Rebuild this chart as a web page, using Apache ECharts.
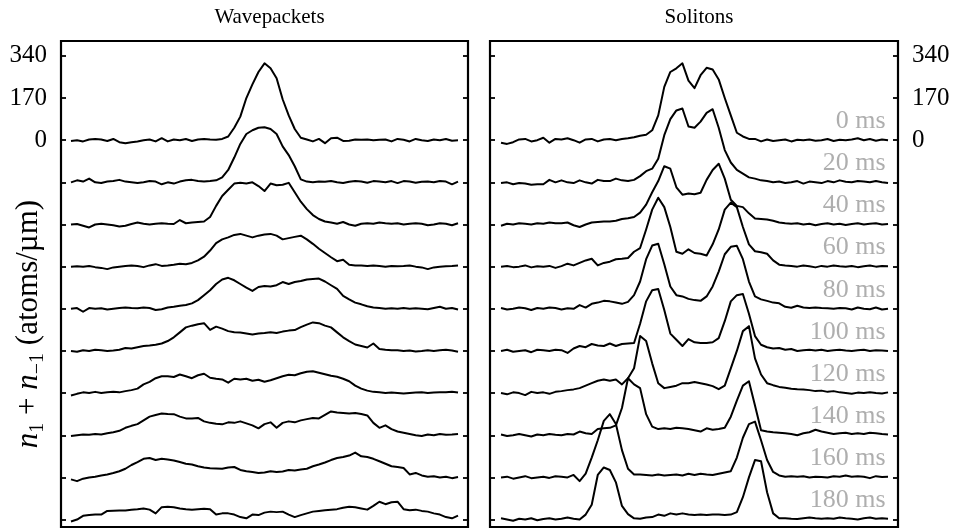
<!DOCTYPE html>
<html>
<head>
<meta charset="utf-8">
<script src="https://cdn.jsdelivr.net/npm/echarts@6/dist/echarts.min.js"></script>
<style>html,body{margin:0;padding:0;background:#fff;}#c{width:960px;height:531px;}</style>
</head>
<body>
<div id="c"></div>
<script>
// Panel titles and trace labels
const panelTitles = ['Wavepackets', 'Solitons'];
const timeLabels = ['0 ms','20 ms','40 ms','60 ms','80 ms','100 ms','120 ms','140 ms','160 ms','180 ms'];
const traceOffset = 170;                 // vertical offset between successive traces (atoms/µm)
const yTickLabels = [0, 170, 340];
const yTicks = [340,170,0,-170,-340,-510,-680,-850,-1020,-1190,-1360,-1530];

// Wavepackets: density profiles (atoms/µm), 65 samples each
const wave0 = [-3,0,-5,3,5,3,-3,5,-8,-12,-8,-5,0,3,-5,8,-5,3,0,5,-3,3,5,3,2,5,15,50,95,170,225,275,310,290,250,165,100,45,10,3,-5,5,-12,8,10,-3,-2,3,2,3,0,2,3,-5,5,2,-5,5,0,-3,3,0,5,-2,0];
const wave1 = [0,8,3,15,0,-3,3,5,10,3,0,-3,0,5,3,-8,0,-5,3,8,10,5,3,5,8,20,50,100,155,195,210,220,222,215,195,145,110,65,12,3,0,3,2,5,0,-3,2,5,3,-2,5,3,0,5,-3,5,3,-2,2,3,0,5,3,-8,3];
const wave2 = [0,2,-5,-12,0,3,0,-3,-8,-5,2,8,3,0,3,5,3,2,18,5,8,10,12,30,75,115,140,165,168,165,170,155,135,165,158,160,168,130,92,62,38,22,12,8,3,10,0,-5,3,5,3,8,5,3,5,0,3,5,3,-3,0,5,3,-3,5];
const wave3 = [0,2,0,3,-2,-5,-10,-3,0,3,5,3,-2,5,10,3,5,8,12,10,15,25,40,65,95,110,118,128,132,125,118,125,130,132,125,110,115,120,125,110,92,72,55,38,22,28,8,5,5,3,5,3,0,3,2,3,5,0,-3,-10,-3,0,2,3,5];
const wave4 = [0,3,-12,3,0,2,-3,0,3,5,3,2,5,3,-5,-2,5,8,12,15,22,35,55,75,100,118,125,115,100,85,72,88,92,90,95,108,100,108,112,118,120,122,110,95,80,52,38,25,18,10,5,3,0,2,0,3,0,2,0,-2,3,8,0,3,-3];
const wave5 = [0,-3,3,0,5,3,0,2,5,12,10,15,20,22,25,30,40,55,75,95,102,108,112,85,98,90,80,75,74,70,66,70,72,75,72,78,82,84,96,106,115,112,102,95,75,55,40,26,20,14,30,8,5,3,3,0,2,-2,0,3,0,3,5,2,-3];
const wave6 = [-10,-3,3,0,5,0,3,5,3,8,12,18,35,45,60,68,68,65,75,68,60,72,78,62,58,55,42,58,55,58,50,54,46,52,60,68,74,72,80,86,88,82,76,70,66,58,48,30,18,10,5,3,0,2,0,-2,0,2,3,0,2,3,3,5,2];
const wave7 = [-3,0,3,2,5,3,8,12,18,30,38,45,60,75,82,88,86,85,75,68,68,70,56,50,46,44,52,50,56,48,40,28,45,52,30,50,56,52,60,65,70,68,82,96,92,90,88,90,86,80,50,30,40,25,15,10,5,0,-3,3,0,5,2,3,5];
const wave8 = [-8,-15,-5,0,3,8,12,18,25,35,50,62,75,78,70,75,72,68,62,55,52,45,40,37,36,35,40,42,30,25,22,18,20,25,22,24,30,28,32,35,45,52,60,70,78,82,88,100,85,82,75,65,55,45,42,38,12,18,8,3,5,0,3,-3,2];
const wave9 = [-8,0,15,18,20,20,35,36,37,37,40,42,45,40,25,50,52,50,45,42,40,42,44,42,20,25,25,20,10,5,20,18,28,32,30,32,20,10,18,25,32,35,38,40,42,48,52,50,45,40,55,72,62,70,72,42,38,40,35,32,25,20,10,5,16];

// Solitons: density profiles (atoms/µm), 65 samples each
const sol0 = [-10,-15,-8,3,5,-5,0,10,-10,5,3,8,0,-10,3,5,-5,3,5,0,5,8,12,18,22,40,100,215,275,290,310,240,210,262,292,285,245,170,100,30,15,5,5,-5,3,-3,0,3,-5,2,0,3,-2,0,5,-3,2,0,3,8,0,5,-2,3,0];
const sol1 = [-3,0,-8,-3,-5,-10,-8,-8,10,0,8,0,-3,8,0,-5,10,5,5,15,8,5,10,25,45,55,95,190,255,290,298,225,220,245,280,295,220,130,80,50,35,20,15,8,5,0,3,-3,0,5,-5,3,0,-3,5,0,8,2,0,5,3,0,5,0,-3];
const sol2 = [-5,3,0,5,3,0,5,3,8,5,5,8,-3,-10,0,8,10,12,12,15,22,25,30,48,80,130,175,235,225,150,120,125,122,128,180,220,245,185,100,75,70,45,24,22,20,15,8,5,3,5,0,3,-3,2,5,0,3,-2,2,5,0,3,5,0,2];
const sol3 = [0,3,-2,0,5,-3,2,0,3,-5,2,12,5,15,25,32,5,15,20,30,32,35,60,75,150,230,278,240,160,60,52,70,55,52,45,90,150,230,258,240,160,90,62,58,52,25,8,5,3,0,5,2,-3,3,0,5,2,0,3,-2,2,5,0,3,2];
const sol4 = [3,-3,0,5,2,-5,3,0,5,3,-3,2,0,15,5,20,25,32,30,25,20,28,55,110,200,255,262,180,90,55,50,40,35,32,50,90,150,220,250,254,200,110,50,38,32,25,22,8,4,12,5,3,5,3,2,0,3,2,-3,5,0,-2,5,-3,0];
const sol5 = [0,5,-3,0,3,-5,5,3,0,5,3,-8,10,20,15,28,22,20,30,20,28,30,32,110,200,245,250,165,70,45,20,48,35,32,32,35,52,120,200,225,230,150,60,25,15,10,12,5,8,0,3,5,2,5,0,3,5,2,0,3,5,0,3,2,0];
const sol6 = [0,-5,3,0,-8,5,0,3,-3,5,8,12,15,20,30,40,50,55,50,55,35,60,100,230,210,120,40,20,25,30,40,40,45,40,35,28,16,30,100,170,250,270,140,75,40,32,25,22,18,16,15,12,8,10,5,8,3,0,-3,2,0,3,0,-2,3];
const sol7 = [3,-3,0,5,0,-5,3,0,5,2,0,5,3,15,8,5,25,28,30,40,110,230,205,190,85,35,25,28,25,30,28,25,20,15,28,22,25,30,75,140,200,218,120,20,15,12,10,8,5,0,8,12,22,15,10,5,8,10,5,8,5,10,8,5,3];
const sol8 = [0,3,-5,0,5,-3,0,3,-2,5,3,0,10,-15,15,80,150,228,255,215,110,35,12,12,10,8,12,8,10,12,8,15,10,15,12,10,15,20,25,80,160,215,225,150,70,22,8,3,5,3,5,0,3,2,0,5,3,8,3,5,3,-3,5,2,3];
const sol9 = [5,0,-5,3,0,5,-3,2,5,0,3,8,3,0,20,60,180,210,200,150,55,22,5,3,8,10,20,15,25,20,25,20,18,20,18,20,20,18,20,30,90,170,240,235,110,25,5,5,3,2,5,8,5,3,5,3,8,5,3,0,5,8,3,5,3];

const waveTraces = [wave0,wave1,wave2,wave3,wave4,wave5,wave6,wave7,wave8,wave9];
const solTraces = [sol0,sol1,sol2,sol3,sol4,sol5,sol6,sol7,sol8,sol9];

const FONT = '"Liberation Serif", "DejaVu Serif", serif';
const chart = echarts.init(document.getElementById('c'), null, {renderer: 'canvas'});

function yAx(grid, pos, labels) {
  return {
    type: 'value', gridIndex: grid, position: pos, min: -1560, max: 400,
    axisLine: {show: false, onZero: false},
    splitLine: {show: false},
    axisTick: {show: true, inside: true, length: 5, customValues: yTicks,
      lineStyle: {color: '#000', width: 1.8}},
    axisLabel: {show: labels, customValues: yTickLabels, fontFamily: FONT,
      fontSize: 25, color: '#000', margin: 14}
  };
}

const series = [];
function addTraces(traces, gi) {
  traces.forEach((arr, k) => {
    series.push({
      type: 'line', xAxisIndex: gi, yAxisIndex: gi * 2, showSymbol: false, symbol: 'none',
      silent: true, animation: false,
      lineStyle: {color: '#000', width: 2, join: 'round'},
      data: arr.map((v, i) => [i, v - traceOffset * k])
    });
  });
}
addTraces(waveTraces, 0);
addTraces(solTraces, 1);

series.push({
  type: 'scatter', xAxisIndex: 1, yAxisIndex: 2, symbolSize: 0, silent: true,
  data: timeLabels.map((t, k) => ({value: [63.6, 77 - traceOffset * k], name: t})),
  label: {show: true, position: [0, 0], align: 'right', verticalAlign: 'middle',
    formatter: p => p.name, fontFamily: FONT, fontSize: 26, color: '#9a9a9a'}
});

chart.setOption({
  animation: false,
  backgroundColor: '#fff',
  title: [
    {text: panelTitles[0], left: 264.5, top: 2, textAlign: 'center',
      textStyle: {fontFamily: FONT, fontSize: 21, fontWeight: 'normal', color: '#000'}},
    {text: panelTitles[1], left: 694, top: 2, textAlign: 'center',
      textStyle: {fontFamily: FONT, fontSize: 21, fontWeight: 'normal', color: '#000'}}
  ],
  grid: [
    {left: 61, top: 41, width: 407, height: 486, show: true, borderColor: '#000', borderWidth: 2.2, backgroundColor: 'transparent'},
    {left: 490, top: 41, width: 408, height: 486, show: true, borderColor: '#000', borderWidth: 2.2, backgroundColor: 'transparent'}
  ],
  xAxis: [
    {type: 'value', gridIndex: 0, min: -1.65, max: 65.65, show: false},
    {type: 'value', gridIndex: 1, min: -1.82, max: 65.65, show: false}
  ],
  yAxis: [
    yAx(0, 'left', true), yAx(0, 'right', false),
    yAx(1, 'left', false), yAx(1, 'right', true)
  ],
  graphic: [{
    type: 'text', x: 29, y: 324, rotation: Math.PI / 2,
    style: {
      text: '{i|n}{s|1}{r| + }{i|n}{s|−1}{r| (atoms/µm)}',
      align: 'center', verticalAlign: 'middle',
      rich: {
        i: {fontFamily: FONT, fontStyle: 'italic', fontSize: 31, lineHeight: 38, fill: '#000'},
        r: {fontFamily: FONT, fontSize: 31, lineHeight: 38, fill: '#000'},
        s: {fontFamily: FONT, fontSize: 20, lineHeight: 20, verticalAlign: 'bottom', fill: '#000'}
      }
    }
  }],
  series: series
});
</script>
</body>
</html>
